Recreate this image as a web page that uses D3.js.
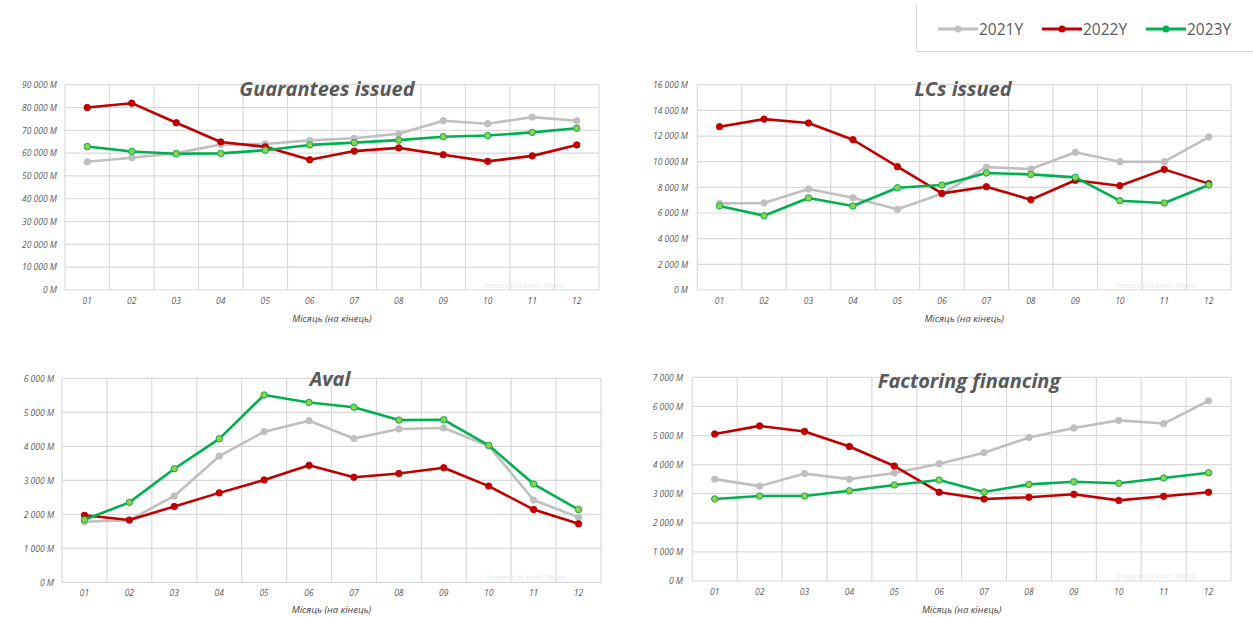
<!DOCTYPE html>
<html><head><meta charset="utf-8">
<script src="https://cdn.jsdelivr.net/npm/d3@7"></script>
<style>
html,body{margin:0;padding:0;background:#fff;}
svg{display:block;}
</style></head>
<body>
<svg id="c" width="1253" height="617"></svg>
<script>
const months = ["01","02","03","04","05","06","07","08","09","10","11","12"];
const seriesNames = ["2021Y","2022Y","2023Y"];

const guarantees2021 = [56200,58000,60000,63800,64000,65600,66500,68500,74200,72900,75800,74200];
const guarantees2022 = [80000,81900,73300,64900,62750,57100,60900,62300,59300,56400,58800,63600];
const guarantees2023 = [62900,60700,59700,59900,61300,63600,64600,65700,67200,67700,69100,70900];

const lcs2021 = [6750,6780,7870,7190,6290,7500,9580,9430,10730,10000,10000,11920];
const lcs2022 = [12730,13320,13010,11710,9610,7530,8050,7040,8550,8130,9400,8290];
const lcs2023 = [6550,5790,7170,6550,7970,8180,9120,9010,8780,6960,6780,8180];

const aval2021 = [1780,1830,2540,3710,4430,4750,4230,4510,4540,4010,2420,1910];
const aval2022 = [1970,1830,2230,2630,3010,3440,3090,3200,3370,2830,2140,1720];
const aval2023 = [1840,2350,3340,4220,5510,5290,5150,4770,4780,4030,2890,2140];

const factoring2021 = [3500,3260,3690,3500,3710,4030,4410,4930,5260,5520,5410,6190];
const factoring2022 = [5050,5330,5140,4620,3950,3050,2820,2880,2980,2770,2910,3050];
const factoring2023 = [2820,2920,2920,3100,3300,3470,3060,3320,3410,3360,3540,3720];

const yTicksGuarantees = [0,10000,20000,30000,40000,50000,60000,70000,80000,90000];
const yTicksLcs = [0,2000,4000,6000,8000,10000,12000,14000,16000];
const yTicksAval = [0,1000,2000,3000,4000,5000,6000];
const yTicksFactoring = [0,1000,2000,3000,4000,5000,6000,7000];

const titles = ["Guarantees issued","LCs issued","Aval","Factoring financing"];
const xAxisTitle = "Місяць (на кінець)";
const watermark = "Prepared by Andrii Zlenko";

const lineColors = ["#BFBFBF","#C00000","#00B050"];
const markerFill = ["#BFBFBF","#C00000","#92D050"];

const charts = [
  {title:titles[0], data:[guarantees2021,guarantees2022,guarantees2023], ticks:yTicksGuarantees,
   box:{l:65,t:84.7,r:599,b:290}, titleX:327, titleY:96, axTitleY:322, labelX:57},
  {title:titles[1], data:[lcs2021,lcs2022,lcs2023], ticks:yTicksLcs,
   box:{l:697.3,t:84.7,r:1231,b:290}, titleX:963, titleY:96, axTitleY:322, labelX:688},
  {title:titles[2], data:[aval2021,aval2022,aval2023], ticks:yTicksAval,
   box:{l:62,t:378.3,r:601,b:582.3}, titleX:330, titleY:386, axTitleY:613, labelX:54},
  {title:titles[3], data:[factoring2021,factoring2022,factoring2023], ticks:yTicksFactoring,
   box:{l:692.3,t:377.3,r:1231,b:581}, titleX:969, titleY:388, axTitleY:613, labelX:683}
];

const svg = d3.select("#c");
const fmt = v => (v===0 ? "0" : d3.format(",")(v).replace(/,/g," ")) + " M";

charts.forEach(c => {
  const g = svg.append("g");
  const x = d3.scaleBand().domain(months).range([c.box.l, c.box.r]);
  const ymax = c.ticks[c.ticks.length-1];
  const y = d3.scaleLinear().domain([0, ymax]).range([c.box.b, c.box.t]);

  g.append("g").selectAll("line").data(c.ticks).join("line")
    .attr("x1", c.box.l).attr("x2", c.box.r)
    .attr("y1", d => y(d)).attr("y2", d => y(d))
    .attr("stroke", "#D9D9D9").attr("stroke-width", 1.2);
  const edges = months.map(m => x(m)).concat([c.box.r]);
  g.append("g").selectAll("line").data(edges).join("line")
    .attr("x1", d => d).attr("x2", d => d)
    .attr("y1", c.box.t).attr("y2", c.box.b)
    .attr("stroke", "#D9D9D9").attr("stroke-width", 1.2);

  const ya = d3.axisLeft(y).tickValues(c.ticks).tickFormat(fmt).tickSize(0).tickPadding(0);
  const yg = g.append("g").attr("transform", `translate(${c.labelX},0)`).call(ya);
  yg.select(".domain").remove();
  yg.selectAll("text").attr("font-family","Open Sans, sans-serif").attr("font-style","italic")
    .attr("font-size", 8.5).attr("fill","#595959");

  const xa = d3.axisBottom(x).tickSize(0).tickPadding(0);
  const xg = g.append("g").attr("transform", `translate(0,${c.box.b+8})`).call(xa);
  xg.select(".domain").remove();
  xg.selectAll("text").attr("font-family","Open Sans, sans-serif").attr("font-style","italic")
    .attr("font-size", 8.5).attr("fill","#595959");

  g.append("text").attr("x", (c.box.l+c.box.r)/2).attr("y", c.axTitleY)
    .attr("text-anchor","middle").attr("font-family","Open Sans, sans-serif")
    .attr("font-style","italic").attr("font-size", 9.5).attr("fill","#404040").text(xAxisTitle);

  g.append("text").attr("x", c.box.r - 75).attr("y", c.box.b - 2)
    .attr("text-anchor","middle").attr("font-family","Open Sans, sans-serif")
    .attr("font-size", 6.5).attr("fill","#E6E6E6").text(watermark);

  const line = d3.line().x((d,i) => x(months[i]) + x.bandwidth()/2).y(d => y(d));
  c.data.forEach((arr, si) => {
    g.append("path").datum(arr).attr("d", line).attr("fill","none")
      .attr("stroke", lineColors[si]).attr("stroke-width", 2.6).attr("stroke-linejoin","round");
    g.append("g").selectAll("circle").data(arr).join("circle")
      .attr("cx", (d,i) => x(months[i]) + x.bandwidth()/2).attr("cy", d => y(d))
      .attr("r", 3.2).attr("fill", markerFill[si]).attr("stroke", lineColors[si]).attr("stroke-width", 1);
  });

  g.append("text").attr("x", c.titleX).attr("y", c.titleY).attr("text-anchor","middle")
    .attr("font-family","Open Sans, sans-serif").attr("font-weight","bold").attr("font-style","italic")
    .attr("font-size", 20).attr("fill","#595959").text(c.title);
});

const lg = svg.append("g");
lg.append("path").attr("d","M916.5,4 V51.5 H1253").attr("fill","none").attr("stroke","#D9D9D9");
const legX = [938, 1042, 1146];
seriesNames.forEach((n, i) => {
  const gx = legX[i];
  lg.append("line").attr("x1", gx).attr("x2", gx+40).attr("y1", 29).attr("y2", 29)
    .attr("stroke", lineColors[i]).attr("stroke-width", 2.8);
  lg.append("circle").attr("cx", gx+20).attr("cy", 29).attr("r", 3.5)
    .attr("fill", lineColors[i]);
  lg.append("text").attr("x", gx+41).attr("y", 34.5).attr("font-family","Open Sans, sans-serif")
    .attr("font-size", 15.5).attr("fill","#595959").text(n);
});
</script>
</body></html>
